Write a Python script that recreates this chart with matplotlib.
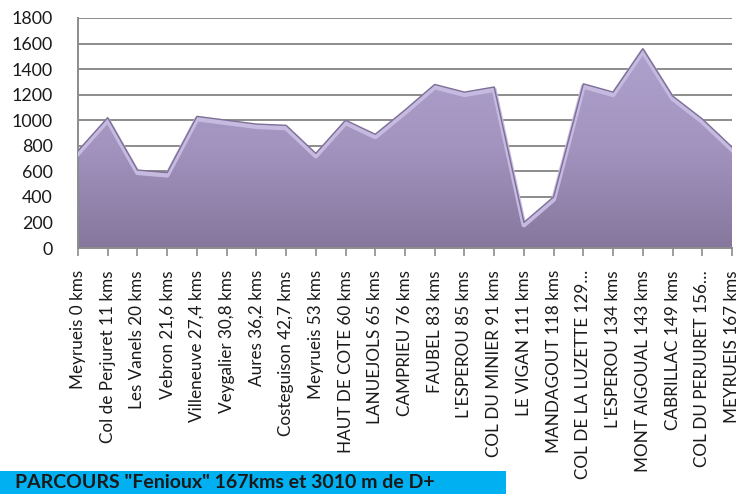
import matplotlib
matplotlib.use("Agg")
import matplotlib.pyplot as plt
import numpy as np
from matplotlib.patches import Rectangle
from matplotlib.colors import LinearSegmentedColormap

labels = ["Meyrueis 0 kms", "Col de Perjuret 11 kms", "Les Vanels 20 kms", "Vebron 21,6 kms",
          "Villeneuve 27,4 kms", "Veygalier 30,8 kms", "Aures 36,2 kms", "Costeguison 42,7 kms",
          "Meyrueis 53 kms", "HAUT DE COTE 60 kms", "LANUEJOLS 65 kms", "CAMPRIEU 76 kms",
          "FAUBEL 83 kms", "L'ESPEROU 85 kms", "COL DU MINIER 91 kms", "LE VIGAN 111 kms",
          "MANDAGOUT 118 kms", "COL DE LA LUZETTE 129…", "L'ESPEROU 134 kms", "MONT AIGOUAL 143 kms",
          "CABRILLAC 149 kms", "COL DU PERJURET 156…", "MEYRUEIS 167 kms"]
altitudes = [760, 1020, 610, 590, 1030, 1000, 970, 960, 740, 1000, 890, 1080,
             1280, 1220, 1260, 200, 400, 1285, 1220, 1560, 1190, 1010, 790]
yticks = [0, 200, 400, 600, 800, 1000, 1200, 1400, 1600, 1800]
title = 'PARCOURS "Fenioux" 167kms et 3010 m de D+'

plt.rcParams['font.family'] = ['Lato', 'DejaVu Sans']

W, H = 749, 494
fig = plt.figure(figsize=(W / 100, H / 100), dpi=100)
ax = fig.add_axes([78 / W, (H - 248) / H, (732 - 78) / W, (248 - 18) / H])

x = np.arange(len(altitudes))
ax.set_xlim(0, len(altitudes) - 1)
ax.set_ylim(0, 1800)

for v in yticks:
    ax.axhline(v, color='#8c8c8c', lw=1.4, zorder=0)

poly = ax.fill_between(x, altitudes, 0, facecolor='none', edgecolor='none', zorder=2)
cmap = LinearSegmentedColormap.from_list('g', ['#85779c', '#a294bf', '#b0a2ce'])
grad = np.linspace(0, 1, 256).reshape(-1, 1)
img = ax.imshow(grad, extent=[0, len(altitudes) - 1, 0, 1600], origin='lower',
                aspect='auto', cmap=cmap, zorder=2)
img.set_clip_path(poly.get_paths()[0], transform=ax.transData)
ax.plot(x, np.array(altitudes) - 20, color='#c6bae0', lw=3.5, zorder=3, solid_joinstyle='round')
ax.plot(x, altitudes, color='#7d6f95', lw=1.0, zorder=4)
ax.set_ylim(0, 1800)

ax.set_yticks(yticks)
ax.set_xticks(x)
ax.set_xticklabels(labels, rotation=90, fontsize=12.3, color='#1a1a1a')
ax.tick_params(axis='y', length=0, labelsize=12.8, colors='#1a1a1a', pad=18)
ax.tick_params(axis='x', length=6, width=1.2, color='#8c8c8c', pad=10)
for s in ['top', 'right']:
    ax.spines[s].set_visible(False)
ax.spines['left'].set_color('#8c8c8c')
ax.spines['bottom'].set_color('#8c8c8c')
ax.spines['left'].set_linewidth(1.4)
ax.spines['bottom'].set_linewidth(1.4)

fig.patches.append(Rectangle((0, 0), 506 / W, (H - 471) / H, transform=fig.transFigure,
                             facecolor='#00b0f0', edgecolor='none', zorder=5))
fig.text(15 / W, 3 / H, title, transform=fig.transFigure, fontsize=14,
         fontweight='bold', color='#1a1a1a', va='bottom', ha='left', zorder=6)

fig.savefig('out.png', dpi=100)
